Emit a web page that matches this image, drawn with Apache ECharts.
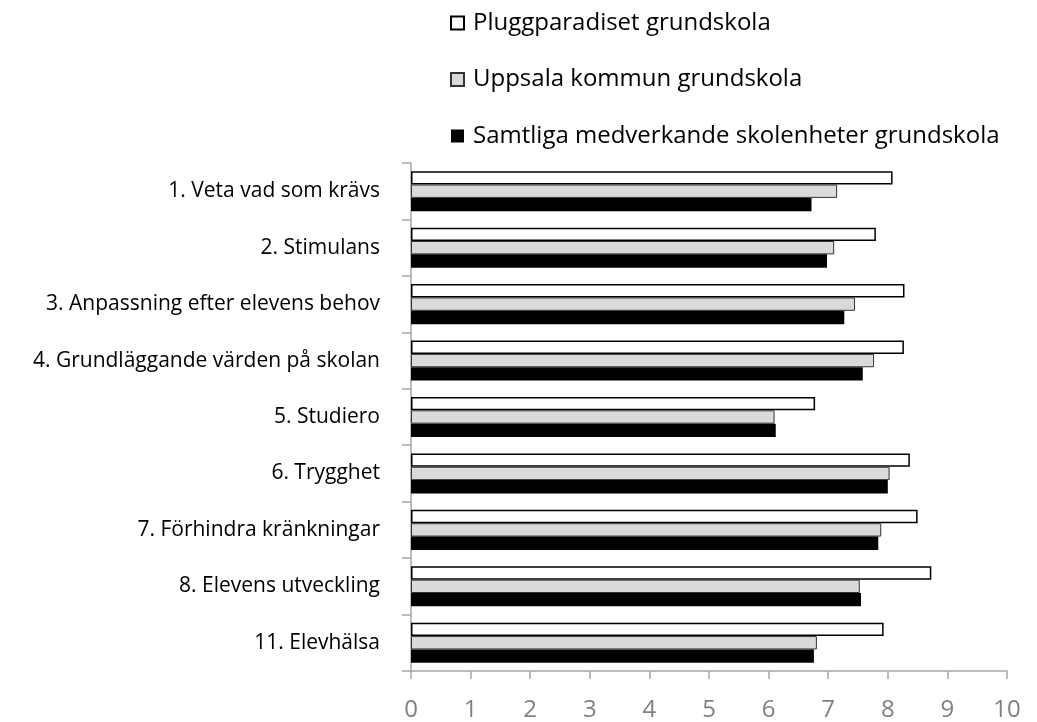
<!DOCTYPE html>
<html><head><meta charset="utf-8">
<script src="https://cdn.jsdelivr.net/npm/echarts@6/dist/echarts.min.js"></script>
<style>html,body{margin:0;padding:0;background:#fff}#c{width:1037px;height:722px}</style>
</head><body><div id="c"></div>
<script>
const categories = ["1. Veta vad som krävs","2. Stimulans","3. Anpassning efter elevens behov","4. Grundläggande värden på skolan","5. Studiero","6. Trygghet","7. Förhindra kränkningar","8. Elevens utveckling","11. Elevhälsa"];
const seriesNames = ["Pluggparadiset grundskola","Uppsala kommun grundskola","Samtliga medverkande skolenheter grundskola"];
const pluggparadiset = [8.08,7.80,8.28,8.27,6.78,8.37,8.50,8.73,7.93];
const uppsala = [7.15,7.10,7.45,7.77,6.10,8.03,7.89,7.53,6.81];
const samtliga = [6.72,6.98,7.27,7.58,6.12,8.00,7.84,7.55,6.76];
const xTicks = [0,1,2,3,4,5,6,7,8,9,10];

const font = '"Open Sans", Lato, sans-serif';
const chart = echarts.init(document.getElementById('c'));
chart.setOption({
  animation:false,
  backgroundColor:'#fff',
  legend:{
    orient:'vertical', left:445, top:6, itemWidth:13, itemHeight:13, itemGap:32.5, icon:'rect',
    textStyle:{fontFamily:font,fontSize:24,color:'#000',padding:[0,0,0,4]},
    data:seriesNames
  },
  grid:{left:411,right:30,top:163,bottom:47,containLabel:false},
  xAxis:{
    type:'value',min:xTicks[0],max:xTicks[xTicks.length-1],interval:1,
    axisLine:{show:true,lineStyle:{color:'#a6a6a6',width:1.5}},
    axisTick:{show:true,length:8,lineStyle:{color:'#a6a6a6',width:1.5}},
    splitLine:{show:false},
    axisLabel:{fontFamily:font,fontSize:24,color:'#808080',margin:27}
  },
  yAxis:{
    type:'category',data:categories,inverse:true,
    axisLine:{show:true,lineStyle:{color:'#a6a6a6',width:1.5}},
    axisTick:{show:true,length:9,lineStyle:{color:'#a6a6a6',width:1.5}},
    axisLabel:{fontFamily:font,fontSize:21,color:'#000',margin:31}
  },
  series:[
    {name:seriesNames[0],type:'bar',data:pluggparadiset,barGap:'0%',barCategoryGap:'29%',
     itemStyle:{color:'#ffffff',borderColor:'#000',borderWidth:1.5}},
    {name:seriesNames[1],type:'bar',data:uppsala,
     itemStyle:{color:'#dadadc',borderColor:'#333',borderWidth:1}},
    {name:seriesNames[2],type:'bar',data:samtliga,
     itemStyle:{color:'#000000',borderColor:'#000',borderWidth:0}}
  ]
});
</script></body></html>
